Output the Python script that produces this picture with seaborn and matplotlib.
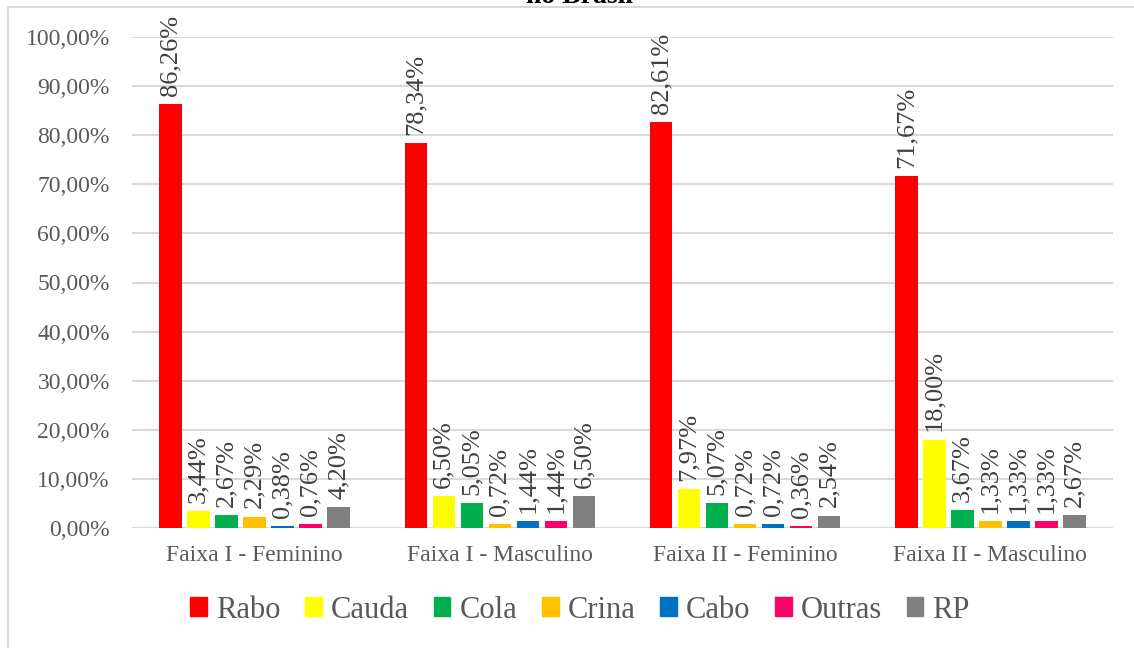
import matplotlib
matplotlib.use('Agg')
import matplotlib.pyplot as plt
import pandas as pd
import seaborn as sns
from matplotlib.patches import Rectangle
from matplotlib.ticker import FuncFormatter

# Data (percent)
faixas = ['Faixa I - Feminino', 'Faixa I - Masculino', 'Faixa II - Feminino', 'Faixa II - Masculino']
tipos = ['Rabo', 'Cauda', 'Cola', 'Crina', 'Cabo', 'Outras', 'RP']
rabo = [86.26, 78.34, 82.61, 71.67]
cauda = [3.44, 6.50, 7.97, 18.00]
cola = [2.67, 5.05, 5.07, 3.67]
crina = [2.29, 0.72, 0.72, 1.33]
cabo = [0.38, 1.44, 0.72, 1.33]
outras = [0.76, 1.44, 0.36, 1.33]
rp = [4.20, 6.50, 2.54, 2.67]
cores = ['#FF0000', '#FFFF00', '#00B050', '#FFC000', '#0070C0', '#FF0066', '#808080']

series = [rabo, cauda, cola, crina, cabo, outras, rp]
rows = []
for tipo, vals in zip(tipos, series):
    for faixa, v in zip(faixas, vals):
        rows.append({'faixa': faixa, 'tipo': tipo, 'valor': v})
df = pd.DataFrame(rows)

sns.set_style('white')
plt.rcParams['font.family'] = ['Liberation Serif', 'DejaVu Serif']

fig = plt.figure(figsize=(11.34, 6.48), dpi=100)
ax = fig.add_axes([132 / 1134, 1 - 528 / 648, (1113 - 132) / 1134, (528 - 37) / 648])

sns.barplot(
    data=df, x='faixa', y='valor', hue='tipo',
    order=faixas, hue_order=tipos, palette=cores,
    width=0.8, gap=0.2, saturation=1, ax=ax, legend=False,
    linewidth=0
)

def fmt(v):
    return f'{v:.2f}'.replace('.', ',') + '%'

for cont, vals in zip(ax.containers, series):
    ax.bar_label(cont, labels=[fmt(v) for v in vals], rotation=90,
                 padding=6, fontsize=19, color='#404040', clip_on=False)

ax.set_ylim(0, 100)
ax.set_yticks(range(0, 101, 10))
ax.yaxis.set_major_formatter(FuncFormatter(lambda v, p: fmt(v)))
ax.grid(axis='y', color='#d9d9d9', linewidth=1.5)
ax.set_axisbelow(True)
for s in ax.spines.values():
    s.set_visible(False)
ax.set_xlabel('')
ax.set_ylabel('')
ax.tick_params(axis='y', length=0, pad=16, labelsize=17, labelcolor='#595959')
ax.tick_params(axis='x', length=0, pad=12, labelsize=17, labelcolor='#595959')

# legend at the bottom
handles = [Rectangle((0, 0), 1, 1, color=c) for c in cores]
fig.legend(handles, tipos, loc='center', bbox_to_anchor=(580 / 1134, 1 - 610 / 648),
           ncol=7, frameon=False, fontsize=22, handlelength=0.55, handleheight=0.55,
           handletextpad=0.3, columnspacing=0.8, labelcolor='#595959')

# chart border (cropped at right and bottom)
fig.add_artist(Rectangle((8 / 1134, -0.2), 1.5, 1.2 - 7 / 648, transform=fig.transFigure,
                         fill=False, edgecolor='#d9d9d9', linewidth=1.5))

# title, mostly cut off at the top as in the source image
fig.text(580 / 1134, 1 - 3 / 648, 'no Brasil', ha='center', va='baseline',
         fontsize=20, fontweight='bold', color='black')

fig.savefig('out.png', dpi=100)
